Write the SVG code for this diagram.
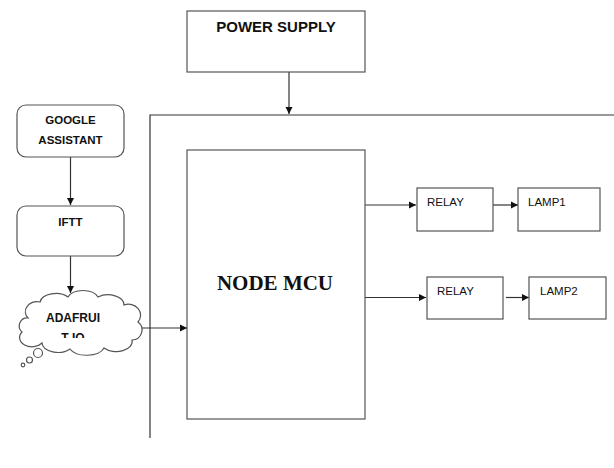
<svg xmlns="http://www.w3.org/2000/svg" width="614" height="468" viewBox="0 0 614 468">
<style>
.box{fill:#fff;stroke:#555;stroke-width:1.2}
.ln{fill:none;stroke:#333;stroke-width:1.2}
.bs{font-family:"Liberation Sans",Arial,sans-serif;font-weight:bold;fill:#111}
.rs{font-family:"Liberation Sans",Arial,sans-serif;fill:#111;font-size:11.5px}
</style>
<defs>
<marker id="ah" markerWidth="8" markerHeight="8" refX="7" refY="4" orient="auto" markerUnits="userSpaceOnUse">
<path d="M0,0.5 L7,4 L0,7.5 Z" fill="#111"/>
</marker>
<clipPath id="cc"><rect x="0" y="290" width="160" height="48"/></clipPath>
</defs>
<rect width="614" height="468" fill="#fff"/>
<g id="connectors">
<path class="ln" d="M289,72 V114" marker-end="url(#ah)"/>
<path class="ln" d="M150,438 V115 H614"/>
<path class="ln" d="M70.5,157 V205" marker-end="url(#ah)"/>
<path class="ln" d="M70.5,256 V293" marker-end="url(#ah)"/>
<path class="ln" d="M139,328 H187" marker-end="url(#ah)"/>
<path class="ln" d="M365,205 H416" marker-end="url(#ah)"/>
<path class="ln" d="M493,205 H518" marker-end="url(#ah)"/>
<path class="ln" d="M365,297.5 H426" marker-end="url(#ah)"/>
<path class="ln" d="M506,297.5 H529" marker-end="url(#ah)"/>
</g>
<g id="power">
<rect class="box" x="187" y="11" width="178" height="61"/>
<text class="bs" x="276" y="32" font-size="15" text-anchor="middle">POWER SUPPLY</text>
</g>
<g id="google">
<rect class="box" x="17" y="105" width="107" height="52" rx="9"/>
<text class="bs" x="70.5" y="124" font-size="11.5" text-anchor="middle">GOOGLE</text>
<text class="bs" x="70.5" y="144" font-size="11.5" text-anchor="middle">ASSISTANT</text>
</g>
<g id="ifttt">
<rect class="box" x="17" y="206" width="107" height="50" rx="9"/>
<text class="bs" x="70.5" y="226" font-size="11.5" text-anchor="middle">IFTT</text>
</g>
<g id="adafruit">
<path class="box" d="M28,318 A12,10 0 0 1 40,302 A16,10 0 0 1 68,297 A16,10 0 0 1 98,297 A16,10 0 0 1 124,305 A12,11 0 0 1 138,322 A10,10 0 0 1 132,340 A16,10 0 0 1 104,348 A18,10 0 0 1 70,349 A16,10 0 0 1 42,343 A12,9 0 0 1 22,332 A8,8 0 0 1 28,318 Z"/>
<circle class="box" cx="38" cy="353" r="4.5"/>
<circle class="box" cx="29.5" cy="360" r="3"/>
<circle class="box" cx="23" cy="365" r="1.8"/>
<text class="bs" x="73" y="322" font-size="12" text-anchor="middle">ADAFRUI</text>
<text class="bs" x="73" y="342" font-size="12" text-anchor="middle" clip-path="url(#cc)">T IO</text>
</g>
<g id="nodemcu">
<rect class="box" x="187" y="150" width="178" height="269"/>
<text x="275" y="290" font-family="'Liberation Serif','Times New Roman',serif" font-weight="bold" font-size="21" text-anchor="middle" fill="#111">NODE MCU</text>
</g>
<g id="relay1">
<rect class="box" x="417" y="188" width="76" height="43"/>
<text class="rs" x="427" y="206">RELAY</text>
</g>
<g id="lamp1">
<rect class="box" x="518" y="188" width="82" height="43"/>
<text class="rs" x="528" y="206">LAMP1</text>
</g>
<g id="relay2">
<rect class="box" x="427" y="277" width="76" height="42"/>
<text class="rs" x="437" y="295">RELAY</text>
</g>
<g id="lamp2">
<rect class="box" x="529" y="277" width="77" height="42"/>
<text class="rs" x="540" y="295">LAMP2</text>
</g>
</svg>
